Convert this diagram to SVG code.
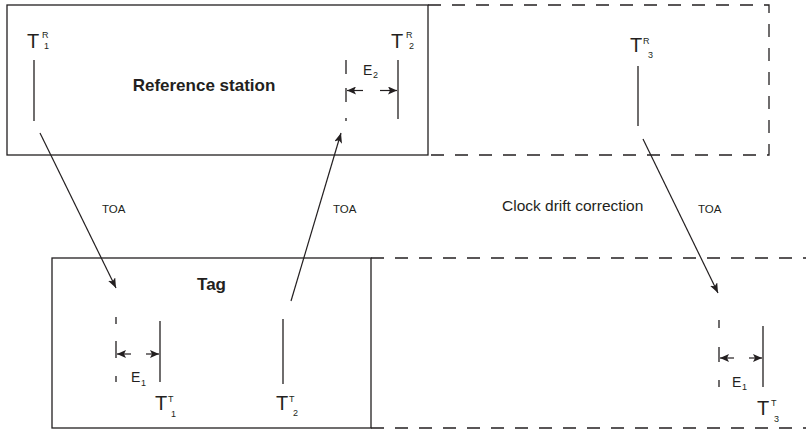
<svg xmlns="http://www.w3.org/2000/svg" width="809" height="432" viewBox="0 0 809 432">
  <style>
    .box { fill: none; stroke: #231f20; stroke-width: 1.3; }
    .dash { fill: none; stroke: #231f20; stroke-width: 1.3; stroke-dasharray: 13 11; }
    .tick { stroke: #231f20; stroke-width: 1.3; fill: none; }
    .conn { stroke: #231f20; stroke-width: 1.2; fill: none; }
    .t { font-family: "Liberation Sans", Arial, sans-serif; fill: #231f20; }
    .big { font-size: 20px; }
    .sm { font-size: 9px; }
    .e { font-size: 14px; }
    .toa { font-size: 11.5px; }
    .title { font-size: 17px; font-weight: bold; }
  </style>
  <defs>
    <marker id="ah" markerUnits="userSpaceOnUse" markerWidth="11" markerHeight="8" refX="10" refY="4" orient="auto">
      <path d="M0,0 L10,4 L0,8 L2.5,4 z" fill="#231f20"/>
    </marker>
    <marker id="ahs" markerUnits="userSpaceOnUse" markerWidth="10" markerHeight="8" refX="9" refY="4" orient="auto">
      <path d="M0,0 L9,4 L0,8 L2,4 z" fill="#231f20"/>
    </marker>
  </defs>

  <g id="reference-station">
    <rect class="box" x="7" y="5" width="421" height="150"/>
    <text class="t title" x="204" y="91" text-anchor="middle">Reference station</text>
  </g>
  <g id="reference-station-next">
    <path class="dash" d="M428,5 H769 V155 H428"/>
  </g>
  <g id="tag">
    <rect class="box" x="52" y="258" width="319" height="170"/>
    <text class="t title" x="211.5" y="290" text-anchor="middle">Tag</text>
  </g>
  <g id="tag-next">
    <path class="dash" d="M371,258 H806"/>
    <path class="dash" d="M371,428 H806"/>
  </g>

  <g id="TR1">
    <line class="tick" x1="34" y1="60" x2="34" y2="121"/>
    <text class="t big" x="27" y="48">T</text>
    <text class="t sm" x="42" y="38">R</text>
    <text class="t sm" x="44" y="49">1</text>
  </g>
  <g id="TR2">
    <line class="tick" x1="398" y1="60" x2="398" y2="119"/>
    <text class="t big" x="391" y="48">T</text>
    <text class="t sm" x="406" y="38">R</text>
    <text class="t sm" x="409" y="49">2</text>
    <path class="tick" d="M346,60 V74 M346,88 V102 M346,118 V121"/>
    <text class="t e" x="363" y="75">E</text>
    <text class="t sm" x="373" y="78">2</text>
  </g>
  <g id="TR3">
    <line class="tick" x1="638" y1="66" x2="638" y2="126"/>
    <text class="t big" x="630" y="52">T</text>
    <text class="t sm" x="643" y="44">R</text>
    <text class="t sm" x="648" y="58">3</text>
  </g>
  <g id="TT1">
    <line class="tick" x1="160" y1="321" x2="160" y2="382"/>
    <path class="tick" d="M116,317 V324 M116,341 V358 M116,376 V382"/>
    <text class="t big" x="155" y="410">T</text>
    <text class="t sm" x="168" y="402">T</text>
    <text class="t sm" x="171" y="417">1</text>
    <text class="t e" x="131" y="382">E</text>
    <text class="t sm" x="141" y="386">1</text>
  </g>
  <g id="TT2">
    <line class="tick" x1="283" y1="319" x2="283" y2="384"/>
    <text class="t big" x="276" y="410">T</text>
    <text class="t sm" x="289" y="402">T</text>
    <text class="t sm" x="293" y="416">2</text>
  </g>
  <g id="TT3">
    <line class="tick" x1="763" y1="326" x2="763" y2="387"/>
    <path class="tick" d="M719,320 V328 M719,347 V362 M719,380 V387"/>
    <text class="t big" x="757" y="415">T</text>
    <text class="t sm" x="771" y="406">T</text>
    <text class="t sm" x="774" y="422">3</text>
    <text class="t e" x="732" y="387">E</text>
    <text class="t sm" x="742" y="390">1</text>
  </g>

  <g id="labels">
    <text class="t toa" x="102" y="213">TOA</text>
    <text class="t toa" x="333" y="213">TOA</text>
    <text class="t toa" x="698" y="213">TOA</text>
    <text class="t" x="502" y="211" font-size="15.5">Clock drift correction</text>
  </g>

  <g id="connectors">
    <line class="conn" x1="40" y1="133" x2="116" y2="288" marker-end="url(#ah)"/>
    <line class="conn" x1="291" y1="301" x2="341" y2="133" marker-end="url(#ah)"/>
    <line class="conn" x1="643" y1="139" x2="718" y2="293" marker-end="url(#ah)"/>
    <line class="conn" x1="363" y1="90.5" x2="347" y2="90.5" marker-end="url(#ahs)"/>
    <line class="conn" x1="380" y1="90.5" x2="397" y2="90.5" marker-end="url(#ahs)"/>
    <line class="conn" x1="131" y1="354" x2="117" y2="354" marker-end="url(#ahs)"/>
    <line class="conn" x1="146" y1="354" x2="159" y2="354" marker-end="url(#ahs)"/>
    <line class="conn" x1="734" y1="358" x2="720" y2="358" marker-end="url(#ahs)"/>
    <line class="conn" x1="749" y1="358" x2="762" y2="358" marker-end="url(#ahs)"/>
  </g>
</svg>
